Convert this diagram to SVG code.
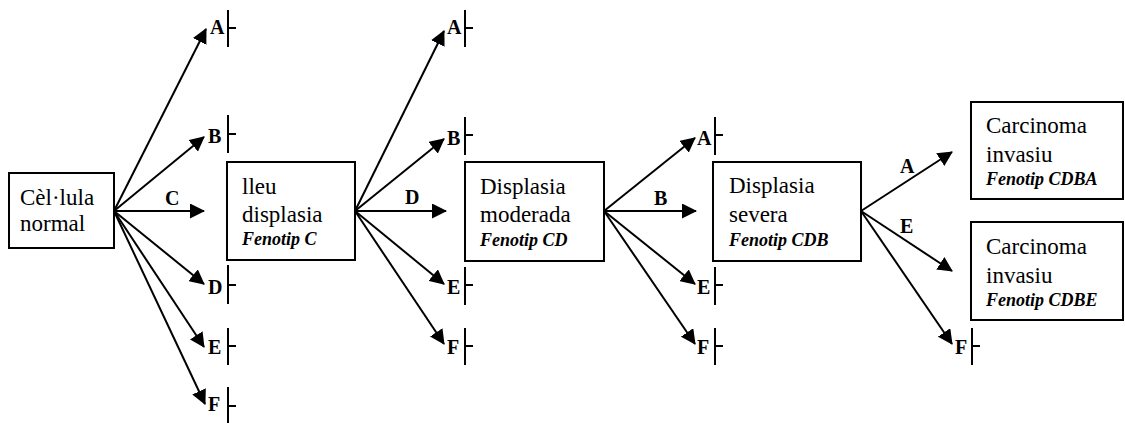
<svg xmlns="http://www.w3.org/2000/svg" width="1125" height="423" viewBox="0 0 1125 423">
  <style>
    .box { fill: #fff; stroke: #000; stroke-width: 2; }
    .t { font-family: 'Liberation Serif', 'Times New Roman', Times, 'DejaVu Serif', 'Noto Serif', serif; font-size: 23px; fill: #000; }
    .ph { font-family: 'Liberation Serif', 'Times New Roman', Times, 'DejaVu Serif', 'Noto Serif', serif; font-size: 18px; font-style: italic; font-weight: bold; fill: #000; }
    .lab { font-family: 'Liberation Serif', 'Times New Roman', Times, 'DejaVu Serif', 'Noto Serif', serif; font-size: 20px; font-weight: bold; fill: #000; }
    .arr { stroke: #000; stroke-width: 2; fill: none; marker-end: url(#ah); }
    .bar { stroke: #000; stroke-width: 2; fill: none; }
  </style>
  <defs>
    <marker id="ah" markerUnits="userSpaceOnUse" markerWidth="15" markerHeight="15" refX="14" refY="7.5" orient="auto">
      <path d="M0,0 L15,7.5 L0,15 z" fill="#000"/>
    </marker>
  </defs>

  <g id="node-celula">
    <rect class="box" x="9" y="173" width="105" height="75"/>
    <text class="t" x="20" y="205">Cèl·lula</text>
    <text class="t" x="20" y="231">normal</text>
  </g>
  <g id="node-lleu">
    <rect class="box" x="227" y="162" width="128" height="98"/>
    <text class="t" x="242" y="194">lleu</text>
    <text class="t" x="242" y="222">displasia</text>
    <text class="ph" x="242" y="245">Fenotip C</text>
  </g>
  <g id="node-moderada">
    <rect class="box" x="465" y="162" width="139" height="99"/>
    <text class="t" x="480" y="194">Displasia</text>
    <text class="t" x="480" y="222">moderada</text>
    <text class="ph" x="480" y="246">Fenotip CD</text>
  </g>
  <g id="node-severa">
    <rect class="box" x="713" y="162" width="148" height="99"/>
    <text class="t" x="729" y="193">Displasia</text>
    <text class="t" x="729" y="222">severa</text>
    <text class="ph" x="729" y="246">Fenotip CDB</text>
  </g>
  <g id="node-carc-a">
    <rect class="box" x="971" y="102" width="152" height="97"/>
    <text class="t" x="986" y="133">Carcinoma</text>
    <text class="t" x="986" y="162">invasiu</text>
    <text class="ph" x="986" y="185">Fenotip CDBA</text>
  </g>
  <g id="node-carc-e">
    <rect class="box" x="971" y="222" width="152" height="98"/>
    <text class="t" x="986" y="254">Carcinoma</text>
    <text class="t" x="986" y="283">invasiu</text>
    <text class="ph" x="986" y="306">Fenotip CDBE</text>
  </g>

  <g id="connectors">
    <line class="arr" x1="114" y1="211" x2="206" y2="29"/>
    <line class="arr" x1="114" y1="211" x2="204" y2="137"/>
    <line class="arr" x1="114" y1="211" x2="204" y2="211"/>
    <line class="arr" x1="114" y1="211" x2="204" y2="284"/>
    <line class="arr" x1="114" y1="211" x2="204" y2="347"/>
    <line class="arr" x1="114" y1="211" x2="205" y2="404"/>
    <line class="arr" x1="355" y1="211" x2="444" y2="31"/>
    <line class="arr" x1="355" y1="211" x2="444" y2="139"/>
    <line class="arr" x1="355" y1="211" x2="446" y2="211"/>
    <line class="arr" x1="355" y1="211" x2="444" y2="284"/>
    <line class="arr" x1="355" y1="211" x2="444" y2="344"/>
    <line class="arr" x1="604" y1="211" x2="695" y2="138"/>
    <line class="arr" x1="604" y1="211" x2="696" y2="211"/>
    <line class="arr" x1="604" y1="211" x2="695" y2="284"/>
    <line class="arr" x1="604" y1="211" x2="695" y2="344"/>
    <line class="arr" x1="861" y1="211" x2="952" y2="152"/>
    <line class="arr" x1="861" y1="211" x2="952" y2="271"/>
    <line class="arr" x1="861" y1="211" x2="952" y2="344"/>
  </g>

  <g id="edge-labels">
    <text class="lab" x="165" y="205">C</text>
    <text class="lab" x="405" y="204">D</text>
    <text class="lab" x="654" y="205">B</text>
    <text class="lab" x="900" y="173">A</text>
    <text class="lab" x="900" y="233">E</text>
  </g>

  <g id="blocked">
    <text class="lab" x="210" y="34">A</text>
    <path class="bar" d="M228,10 V47 M228,28 H236"/>
    <text class="lab" x="208" y="143">B</text>
    <path class="bar" d="M228,115 V153 M228,134 H236"/>
    <text class="lab" x="208" y="294">D</text>
    <path class="bar" d="M228,265 V304 M228,285 H236"/>
    <text class="lab" x="208" y="354">E</text>
    <path class="bar" d="M228,328 V365 M228,346 H236"/>
    <text class="lab" x="208" y="411">F</text>
    <path class="bar" d="M228,387 V425 M228,406 H236"/>
    <text class="lab" x="447" y="34">A</text>
    <path class="bar" d="M465,10 V47 M465,28 H473"/>
    <text class="lab" x="447" y="145">B</text>
    <path class="bar" d="M465,117 V155 M465,135 H473"/>
    <text class="lab" x="447" y="294">E</text>
    <path class="bar" d="M465,267 V305 M465,285 H473"/>
    <text class="lab" x="447" y="354">F</text>
    <path class="bar" d="M465,328 V365 M465,346 H473"/>
    <text class="lab" x="697" y="145">A</text>
    <path class="bar" d="M715,117 V155 M715,135 H723"/>
    <text class="lab" x="697" y="294">E</text>
    <path class="bar" d="M715,267 V305 M715,285 H723"/>
    <text class="lab" x="697" y="354">F</text>
    <path class="bar" d="M715,328 V365 M715,346 H723"/>
    <text class="lab" x="955" y="354">F</text>
    <path class="bar" d="M972,328 V365 M972,346 H980"/>
  </g>
</svg>
